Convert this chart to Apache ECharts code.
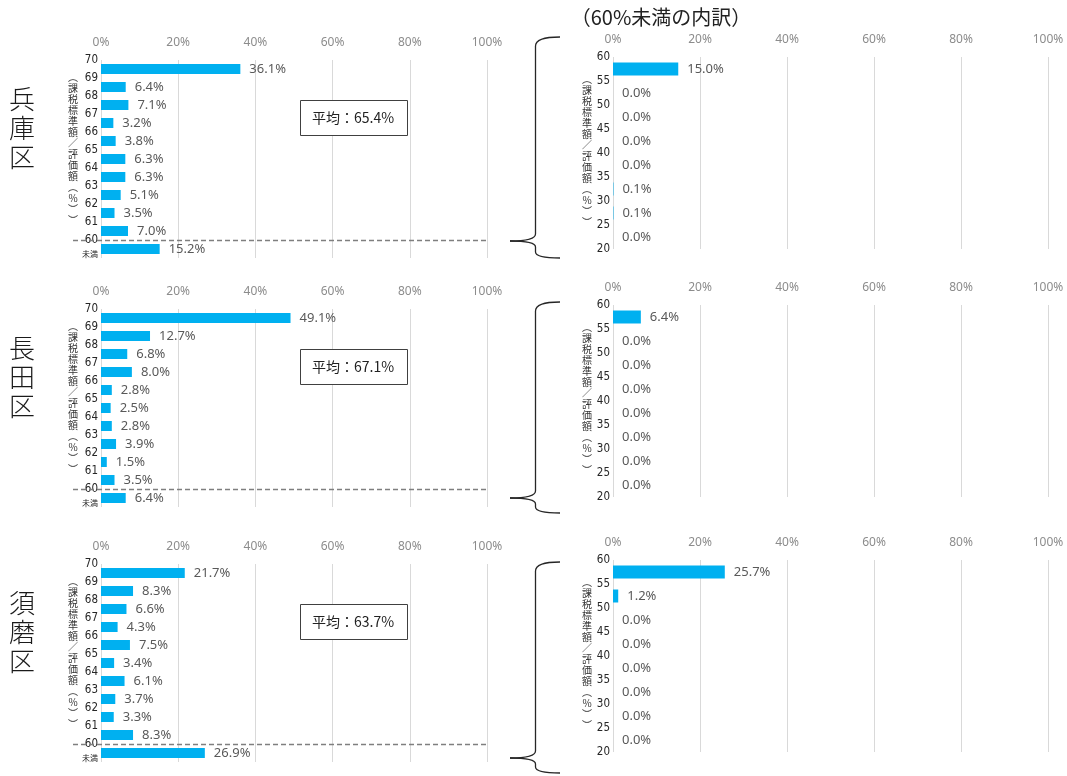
<!DOCTYPE html>
<html>
<head>
<meta charset="utf-8">
<script src="https://cdn.jsdelivr.net/npm/echarts@6/dist/echarts.min.js"></script>
<style>
  html, body { margin: 0; padding: 0; background: #ffffff; }
  #c { width: 1067px; height: 776px; }
</style>
</head>
<body>
<div id="c"></div>
<script>
// ---- data ----
const districts = ['兵庫区', '長田区', '須磨区'];
const averages = [65.4, 67.1, 63.7];

// ratio bands (課税標準額/評価額), top to bottom: 69–70 … 60–61, then below 60
const bandCats = ['69-70', '68-69', '67-68', '66-67', '65-66', '64-65', '63-64', '62-63', '61-62', '60-61', '未満'];
const hyogoShares  = [36.1, 6.4, 7.1, 3.2, 3.8, 6.3, 6.3, 5.1, 3.5, 7.0, 15.2];
const nagataShares = [49.1, 12.7, 6.8, 8.0, 2.8, 2.5, 2.8, 3.9, 1.5, 3.5, 6.4];
const sumaShares   = [21.7, 8.3, 6.6, 4.3, 7.5, 3.4, 6.1, 3.7, 3.3, 8.3, 26.9];

// breakdown of the part below 60, top to bottom: 55–60 … 20–25
const lowCats = ['55-60', '50-55', '45-50', '40-45', '35-40', '30-35', '25-30', '20-25'];
const hyogoLow  = [15.0, 0.0, 0.0, 0.0, 0.0, 0.1, 0.1, 0.0];
const nagataLow = [6.4, 0.0, 0.0, 0.0, 0.0, 0.0, 0.0, 0.0];
const sumaLow   = [25.7, 1.2, 0.0, 0.0, 0.0, 0.0, 0.0, 0.0];

// tick labels
const shareTicks = [0, 20, 40, 60, 80, 100];
const mainEdges = { min: 59, max: 70, step: 1, below: '未満' };
const lowEdges = { min: 20, max: 60, step: 5 };
const threshold = 60;
const breakdownTitle = '（60%未満の内訳）';
const axisTitleChars = ['︵', '課', '税', '標', '準', '額', '／', '評', '価', '額', '︵', '%', '︶', '︶'];

// ---- layout ----
const LEFT  = { x: 101, w: 386, h: 198, tops: [60, 309, 564], bar: 10 };
const RIGHT = { x: 613, w: 435, h: 192, tops: [57, 305, 560], bar: 13 };
const BRACES = [
  { top: 37,  tip: 241, bottom: 258 },
  { top: 302, tip: 498, bottom: 513 },
  { top: 562, tip: 758, bottom: 773 }
];

const BLUE = '#00B0F0';
const NUM_FONT = "'Liberation Sans Narrow','DejaVu Sans Condensed','Liberation Sans',sans-serif";
const LABEL_FONT = "'Noto Sans','Noto Sans CJK JP',sans-serif";
const CJK_FONT = "'Noto Sans CJK JP',sans-serif";

const mainSeries = [hyogoShares, nagataShares, sumaShares];
const lowSeries = [hyogoLow, nagataLow, sumaLow];

const grids = [], xAxes = [], yAxes = [], series = [];

function addPanel(box, top, cats, values, edges, edgeFormatter) {
  const k = grids.length;
  grids.push({ left: box.x, top: top, width: box.w, height: box.h, containLabel: false });
  xAxes.push({
    type: 'value', gridIndex: k, position: 'top',
    min: shareTicks[0], max: shareTicks[shareTicks.length - 1],
    interval: shareTicks[1] - shareTicks[0],
    axisLine: { show: false }, axisTick: { show: false },
    axisLabel: { formatter: '{value}%', color: '#8c8c8c', fontSize: 12, margin: 11, fontFamily: LABEL_FONT },
    splitLine: { show: true, lineStyle: { color: '#d9d9d9', width: 1 } }
  });
  // bars sit on a category axis (hidden)
  yAxes.push({
    type: 'category', gridIndex: k, data: cats, inverse: true,
    axisLine: { show: false }, axisTick: { show: false }, axisLabel: { show: false },
    splitLine: { show: false }
  });
  // band edges are labelled on a value axis sharing the same grid
  yAxes.push({
    type: 'value', gridIndex: k, position: 'left',
    min: edges.min, max: edges.max, interval: edges.step,
    axisLine: { show: false }, axisTick: { show: false }, splitLine: { show: false },
    axisLabel: {
      show: true, showMinLabel: true, showMaxLabel: true,
      color: '#262626', fontSize: 11.5, fontFamily: NUM_FONT, margin: 3,
      formatter: edgeFormatter,
      rich: { s: { fontSize: 8, color: '#262626', fontFamily: CJK_FONT, padding: [0, 0, 9, 0] } }
    }
  });
  series.push({
    type: 'bar', xAxisIndex: k, yAxisIndex: 2 * k,
    data: values, barWidth: box.bar,
    itemStyle: { color: BLUE },
    label: {
      show: true, position: 'right', distance: 9,
      color: '#595959', fontSize: 13, fontFamily: LABEL_FONT,
      formatter: p => p.value.toFixed(1) + '%'
    },
    silent: true, animation: false
  });
  return k;
}

const panelIdx = [];
for (let i = 0; i < districts.length; i++) {
  const l = addPanel(LEFT, LEFT.tops[i], bandCats, mainSeries[i], mainEdges,
    v => (v === mainEdges.min ? '{s|' + mainEdges.below + '}' : String(v)));
  const r = addPanel(RIGHT, RIGHT.tops[i], lowCats, lowSeries[i], lowEdges, v => String(v));
  panelIdx.push({ l, r });
}

const chart = echarts.init(document.getElementById('c'), null, { renderer: 'canvas' });
chart.setOption({
  animation: false,
  backgroundColor: '#ffffff',
  grid: grids, xAxis: xAxes, yAxis: yAxes, series: series
});

// ---- annotations ----
const graphics = [];
const axisTitle = axisTitleChars.join('\n');

graphics.push({
  type: 'text', x: 661, y: 17,
  style: { text: breakdownTitle, fill: '#222222', fontSize: 20, fontFamily: CJK_FONT, align: 'center', verticalAlign: 'middle' }
});

function braceParts(b) {
  const xv = 535.5, xe = 560, xt = 510;
  const st = { stroke: '#262626', lineWidth: 1.3, fill: null };
  return [
    { type: 'bezierCurve', shape: { x1: xe, y1: b.top, cpx1: xv, cpy1: b.top, x2: xv, y2: b.top + 9 }, style: st },
    { type: 'line', shape: { x1: xv, y1: b.top + 9, x2: xv, y2: b.tip - 7 }, style: st },
    { type: 'bezierCurve', shape: { x1: xv, y1: b.tip - 7, cpx1: xv, cpy1: b.tip, x2: xt, y2: b.tip }, style: st },
    { type: 'bezierCurve', shape: { x1: xt, y1: b.tip, cpx1: xv, cpy1: b.tip, x2: xv, y2: b.tip + 6 }, style: st },
    { type: 'line', shape: { x1: xv, y1: b.tip + 6, x2: xv, y2: b.bottom - 6 }, style: st },
    { type: 'bezierCurve', shape: { x1: xv, y1: b.bottom - 6, cpx1: xv, cpy1: b.bottom, x2: xe, y2: b.bottom }, style: st }
  ];
}

for (let i = 0; i < districts.length; i++) {
  const lt = LEFT.tops[i], rt = RIGHT.tops[i];
  // district name, written vertically
  graphics.push({
    type: 'text', x: 22, y: lt + 68,
    style: { text: districts[i].split('').join('\n'), fill: '#1a1a1a', fontSize: 26, lineHeight: 29,
      fontFamily: CJK_FONT, fontWeight: 300, align: 'center', verticalAlign: 'middle' }
  });
  // vertical axis titles
  graphics.push({
    type: 'text', x: 73, y: lt + 89,
    style: { text: axisTitle, fill: '#333333', fontSize: 10, lineHeight: 11,
      fontFamily: CJK_FONT, align: 'center', verticalAlign: 'middle' }
  });
  graphics.push({
    type: 'text', x: 587, y: rt + 94,
    style: { text: axisTitle, fill: '#333333', fontSize: 10, lineHeight: 11,
      fontFamily: CJK_FONT, align: 'center', verticalAlign: 'middle' }
  });
  // average box
  graphics.push({
    type: 'rect', shape: { x: 300.5, y: lt + 40.5, width: 107, height: 35 },
    style: { fill: '#ffffff', stroke: '#404040', lineWidth: 1 }, z: 50
  });
  graphics.push({
    type: 'text', x: 353, y: lt + 58,
    style: { text: '平均：' + averages[i].toFixed(1) + '%', fill: '#222222', fontSize: 14,
      fontFamily: CJK_FONT, align: 'center', verticalAlign: 'middle' }, z: 51
  });
  // dashed threshold line at the 60 edge
  const yT = Math.round(chart.convertToPixel({ yAxisIndex: 2 * panelIdx[i].l + 1 }, threshold)) + 0.5;
  graphics.push({
    type: 'line', shape: { x1: 73, y1: yT, x2: LEFT.x + LEFT.w, y2: yT },
    style: { stroke: '#7f7f7f', lineWidth: 1.6, lineDash: [5, 3] }, z: 60
  });
  // brace linking the below-60 bar to its breakdown
  braceParts(BRACES[i]).forEach(p => { p.z = 40; graphics.push(p); });
}

chart.setOption({ graphic: graphics });
</script>
</body>
</html>
